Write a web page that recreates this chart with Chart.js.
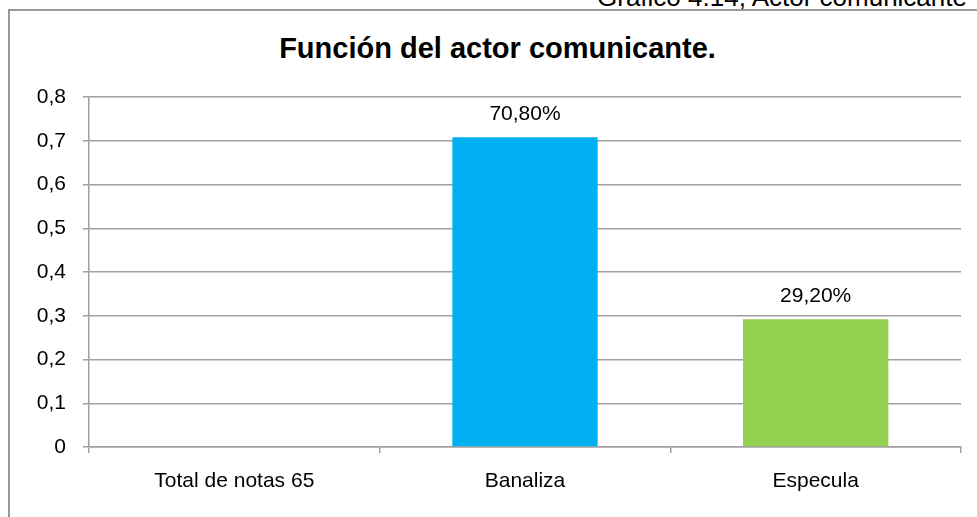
<!DOCTYPE html>
<html>
<head>
    <meta charset="utf-8">
    <title>Función del actor comunicante</title>
    <script src="https://cdn.jsdelivr.net/npm/chart.js"></script>
    <style>
        html, body { margin:0; padding:0; background:#fff; overflow:hidden; }
        body { width:977px; height:517px; position:relative; font-family:"Liberation Sans", Arial, sans-serif; }
        #caption { position:absolute; left:597px; top:-16px; font-size:26px; line-height:26px; white-space:nowrap; color:#000; }
        #frame { position:absolute; left:8px; top:9px; width:1100px; height:600px; border:2px solid #999; }
        #title { position:absolute; left:0; width:995px; top:34px; text-align:center; font-size:29px; line-height:29px; font-weight:bold; color:#000; }
        #chart { position:absolute; left:0; top:0; }
    </style>
</head>
<body>
<div id="caption">Gráfico 4.14, Actor comunicante</div>
<div id="frame"></div>
<div id="title">Función del actor comunicante.</div>
<canvas id="chart" width="977" height="517"></canvas>
<script>
const categories = ['Total de notas 65', 'Banaliza', 'Especula'];
const values = [null, 0.708, 0.292];
const barColors = ['#00B0F0', '#00B0F0', '#92D050'];
const yTicks = [0, 0.1, 0.2, 0.3, 0.4, 0.5, 0.6, 0.7, 0.8];

const fontFamily = '"Liberation Sans", Arial, sans-serif';
const gridColor = '#a0a0a0';

// porcentajes encima de las barras
const valueLabels = {
  id: 'valueLabels',
  afterDatasetsDraw(chart) {
    const ctx = chart.ctx;
    const meta = chart.getDatasetMeta(0);
    ctx.save();
    ctx.font = '21px ' + fontFamily;
    ctx.fillStyle = '#000';
    ctx.textAlign = 'center';
    ctx.textBaseline = 'alphabetic';
    meta.data.forEach((bar, i) => {
      const v = values[i];
      if (v === null) return;
      const txt = (v * 100).toFixed(2).replace('.', ',') + '%';
      ctx.fillText(txt, bar.x, bar.y - 17);
    });
    ctx.restore();
  }
};

const chart = new Chart(document.getElementById('chart').getContext('2d'), {
  type: 'bar',
  data: {
    labels: categories,
    datasets: [{
      data: values,
      backgroundColor: barColors,
      borderWidth: 0,
      barPercentage: 0.5,
      categoryPercentage: 1
    }]
  },
  options: {
    responsive: false,
    animation: false,
    layout: { padding: { top: 97, left: 0, right: 16, bottom: 0 } },
    plugins: { legend: { display: false }, tooltip: { enabled: false }, title: { display: false } },
    scales: {
      x: {
        grid: { offset: true, drawOnChartArea: false, drawTicks: true, tickLength: 6, color: gridColor, lineWidth: 1.5 },
        border: { color: gridColor, width: 1.5 },
        ticks: { color: '#000', font: { family: fontFamily, size: 21 }, padding: 16, maxRotation: 0 },
        afterFit(scale) { scale.height = 70; }
      },
      y: {
        min: 0,
        max: 0.8,
        afterBuildTicks(scale) { scale.ticks = yTicks.map(v => ({ value: v })); },
        grid: { color: gridColor, lineWidth: 1.5, tickLength: 6 },
        border: { color: gridColor, width: 1.5 },
        ticks: {
          color: '#000',
          font: { family: fontFamily, size: 21 },
          padding: 17,
          callback: v => v === 0 ? '0' : v.toFixed(1).replace('.', ',')
        },
        afterFit(scale) { scale.width = 89; }
      }
    }
  },
  plugins: [valueLabels]
});
</script>
</body>
</html>
